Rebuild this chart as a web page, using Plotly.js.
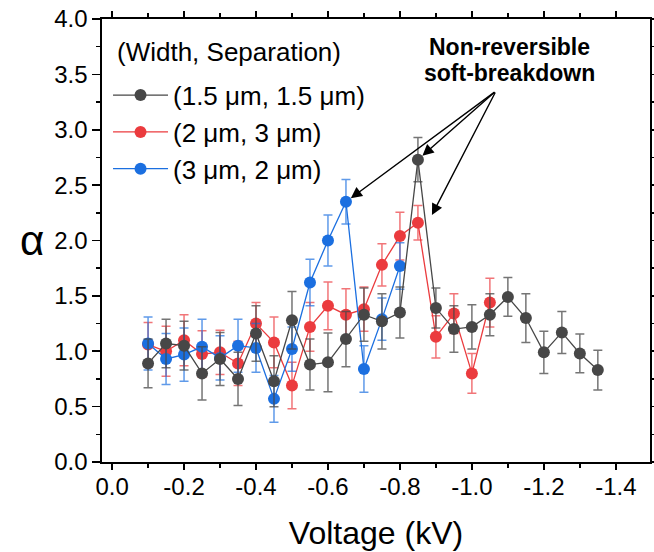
<!DOCTYPE html>
<html>
<head>
<meta charset="utf-8">
<script src="https://cdn.plot.ly/plotly-3.0.1.min.js"></script>
<style>html,body{margin:0;padding:0;background:#fff;}#chart{width:654px;height:552px;}</style>
</head>
<body>
<div id="chart"></div>
<script>
// Voltage (kV)
const voltBlack = [-0.1,-0.15,-0.2,-0.25,-0.3,-0.35,-0.4,-0.45,-0.5,-0.55,-0.6,-0.65,-0.7,-0.75,-0.8,-0.85,-0.9,-0.95,-1.0,-1.05,-1.1,-1.15,-1.2,-1.25,-1.3,-1.35];
const alphaBlack = [0.89,1.07,1.05,0.80,0.93,0.75,1.16,0.73,1.28,0.88,0.90,1.11,1.33,1.27,1.35,2.73,1.39,1.20,1.22,1.33,1.49,1.30,0.99,1.17,0.98,0.83];
const errBlack = [0.22,0.22,0.22,0.24,0.24,0.24,0.25,0.23,0.26,0.23,0.265,0.25,0.24,0.25,0.23,0.20,0.18,0.21,0.20,0.19,0.175,0.22,0.19,0.19,0.175,0.18];

const voltRed = [-0.1,-0.15,-0.2,-0.25,-0.3,-0.35,-0.4,-0.45,-0.5,-0.55,-0.6,-0.65,-0.7,-0.75,-0.8,-0.85,-0.9,-0.95,-1.0,-1.05];
const alphaRed = [1.06,1.00,1.10,0.975,0.99,0.89,1.25,1.08,0.69,1.22,1.41,1.33,1.38,1.78,2.04,2.16,1.13,1.34,0.80,1.44];
const errRed = [0.20,0.225,0.23,0.21,0.20,0.20,0.19,0.23,0.21,0.22,0.215,0.235,0.20,0.19,0.215,0.155,0.19,0.18,0.18,0.22];

const voltBlue = [-0.1,-0.15,-0.2,-0.25,-0.3,-0.35,-0.4,-0.45,-0.5,-0.55,-0.6,-0.65,-0.7,-0.75,-0.8];
const alphaBlue = [1.07,0.93,0.97,1.04,0.94,1.05,1.03,0.57,1.02,1.62,2.00,2.35,0.84,1.29,1.77];
const errBlue = [0.24,0.23,0.24,0.25,0.20,0.24,0.22,0.21,0.20,0.21,0.23,0.20,0.21,0.19,0.21];

const seriesNames = ['(1.5 \u03bcm, 1.5 \u03bcm)', '(2 \u03bcm, 3 \u03bcm)', '(3 \u03bcm, 2 \u03bcm)'];
const legendHeader = '(Width, Separation)';
const xTickVals = [0,-0.2,-0.4,-0.6,-0.8,-1.0,-1.2,-1.4];
const xTickText = ['0.0','-0.2','-0.4','-0.6','-0.8','-1.0','-1.2','-1.4'];
const yTickVals = [0,0.5,1,1.5,2,2.5,3,3.5,4];
const yTickText = ['0.0','0.5','1.0','1.5','2.0','2.5','3.0','3.5','4.0'];

const cBlack = '#474747', cRed = '#eb3b3e', cBlue = '#1b6fe0';
const eBlack = 'rgba(71,71,71,0.75)', eRed = 'rgba(235,59,62,0.7)', eBlue = 'rgba(27,111,224,0.7)';

function tr(x, y, e, name, c, ec, rank, grp) {
  return {
    x: x, y: y, name: name, type: 'scatter', mode: 'lines+markers',
    line: {color: c, width: 1.3},
    marker: {color: c, size: 12},
    error_y: {type: 'data', array: e, visible: true, color: ec, thickness: 1.5, width: 4.5},
    legendrank: rank, legendgroup: grp
  };
}
const data = [
  tr(voltRed, alphaRed, errRed, seriesNames[1], cRed, eRed, 2, 'b'),
  tr(voltBlue, alphaBlue, errBlue, seriesNames[2], cBlue, eBlue, 3, 'c'),
  tr(voltBlack, alphaBlack, errBlack, seriesNames[0], cBlack, eBlack, 1, 'a')
];

const fnt = 'Liberation Sans, Arial, sans-serif';
const layout = {
  width: 654, height: 552,
  margin: {l: 102, r: 4, t: 19, b: 90},
  paper_bgcolor: '#fff', plot_bgcolor: '#fff',
  showlegend: true,
  font: {family: fnt, color: '#000'},
  legend: {
    x: 0.011, y: 0.881, xanchor: 'left', yanchor: 'top',
    bgcolor: 'rgba(0,0,0,0)', borderwidth: 0,
    font: {size: 26, family: fnt, color: '#000'},
    itemwidth: 55, tracegroupgap: 0, traceorder: 'grouped'
  },
  xaxis: {
    range: [0.028, -1.495], showgrid: false, zeroline: false,
    showline: true, linecolor: '#000', linewidth: 1.6, mirror: 'allticks',
    ticks: 'outside', ticklen: 6, tickwidth: 1.6, tickcolor: '#000',
    tickvals: xTickVals, ticktext: xTickText, ticklabelstandoff: -3,
    tickfont: {size: 24, family: fnt, color: '#000'},
    minor: {dtick: 0.1, tick0: 0, ticks: 'outside', ticklen: 4, tickwidth: 1.4, tickcolor: '#000', showgrid: false},
    title: {text: 'Voltage (kV)', font: {size: 32, family: fnt, color: '#000'}, standoff: 22}
  },
  yaxis: {
    range: [0, 4], showgrid: false, zeroline: false,
    showline: true, linecolor: '#000', linewidth: 1.6, mirror: 'allticks',
    ticks: 'outside', ticklen: 8, tickwidth: 1.6, tickcolor: '#000',
    tickvals: yTickVals, ticktext: yTickText,
    tickfont: {size: 24, family: fnt, color: '#000'},
    minor: {dtick: 0.25, tick0: 0, ticks: 'outside', ticklen: 4, tickwidth: 1.4, tickcolor: '#000', showgrid: false}
  },
  annotations: [
    {xref: 'paper', yref: 'paper', x: -0.128, y: 0.5, xanchor: 'center', yanchor: 'middle',
     text: '\u03b1', showarrow: false, font: {size: 42, family: fnt, color: '#000'}},
    {xref: 'paper', yref: 'paper', x: 0.024, y: 0.925, xanchor: 'left', yanchor: 'middle',
     text: legendHeader, showarrow: false, font: {size: 26, family: fnt, color: '#000'}},
    {x: -1.104, y: 3.75, text: '<b>Non-reversible</b>', showarrow: false,
     font: {size: 23, family: fnt, color: '#000'}, xanchor: 'center', yanchor: 'middle'},
    {x: -1.104, y: 3.51, text: '<b>soft-breakdown</b>', showarrow: false,
     font: {size: 23, family: fnt, color: '#000'}, xanchor: 'center', yanchor: 'middle'},
    {x: -0.65, y: 2.35, axref: 'x', ayref: 'y', ax: -1.067, ay: 3.35, text: '', showarrow: true,
     arrowhead: 2, arrowsize: 1.6, arrowwidth: 1.4, arrowcolor: '#000', standoff: 6},
    {x: -0.85, y: 2.73, axref: 'x', ayref: 'y', ax: -1.067, ay: 3.35, text: '', showarrow: true,
     arrowhead: 2, arrowsize: 1.6, arrowwidth: 1.4, arrowcolor: '#000', standoff: 6},
    {x: -0.889, y: 2.23, axref: 'x', ayref: 'y', ax: -1.067, ay: 3.35, text: '', showarrow: true,
     arrowhead: 2, arrowsize: 1.6, arrowwidth: 1.4, arrowcolor: '#000', standoff: 0}
  ]
};
Plotly.newPlot('chart', data, layout, {displayModeBar: false, staticPlot: true});
</script>
</body>
</html>
